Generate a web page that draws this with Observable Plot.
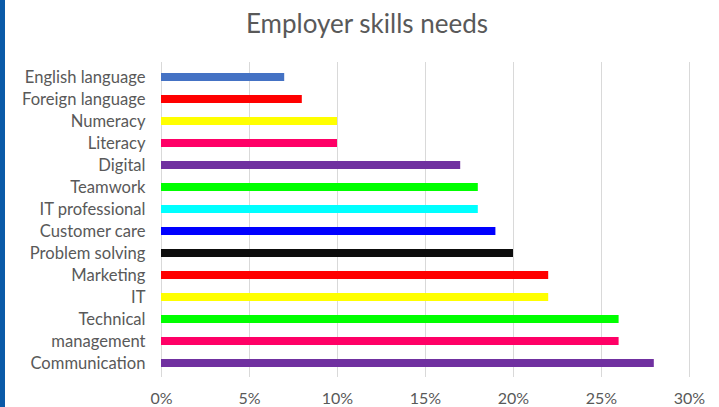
<!DOCTYPE html>
<html>
<head>
<meta charset="utf-8">
<script src="https://cdn.jsdelivr.net/npm/d3@7"></script>
<script src="https://cdn.jsdelivr.net/npm/@observablehq/plot@0.6"></script>
<style>
  html, body { margin: 0; padding: 0; background: #fff; }
  body { width: 719px; height: 407px; position: relative; overflow: hidden; font-family: Lato, "Open Sans", sans-serif; }
  #strip { position: absolute; left: 0; top: 0; width: 5px; height: 407px; background: #0a5aa8; }
  #title { position: absolute; left: 0; top: 0; width: 734px; height: 50px; text-align: center; line-height: 46px; font-size: 26px; color: #595959; }
  #chart { position: absolute; left: 0; top: 50px; }
</style>
</head>
<body>
<div id="strip"></div>
<div id="title">Employer skills needs</div>
<div id="chart"></div>
<script>
const categories = ["English language", "Foreign language", "Numeracy", "Literacy", "Digital", "Teamwork", "IT professional", "Customer care", "Problem solving", "Marketing", "IT", "Technical", "management", "Communication"];
const values = [7, 8, 10, 10, 17, 18, 18, 19, 20, 22, 22, 26, 26, 28];
const colors = ["#4472c4", "#ff0000", "#ffff00", "#ff0066", "#7030a0", "#00ff00", "#00ffff", "#0000ff", "#0d0d0d", "#ff0000", "#ffff00", "#00ff00", "#ff0066", "#7030a0"];
const xTicks = [0, 5, 10, 15, 20, 25, 30];

const data = categories.map((c, i) => ({skill: c, value: values[i], color: colors[i]}));

const chart = Plot.plot({
  width: 719,
  height: 357,
  marginLeft: 161,
  marginRight: 30,
  marginTop: 12,
  marginBottom: 30,
  style: {fontFamily: "Lato, 'Open Sans', sans-serif", color: "#595959", background: "transparent"},
  x: {domain: [0, 30], ticks: xTicks, tickFormat: d => d + "%", label: null},
  y: {domain: categories, paddingInner: 0.64, paddingOuter: 0.32, label: null},
  marks: [
    Plot.gridX(xTicks, {stroke: "#d9d9d9", strokeOpacity: 1, strokeWidth: 1}),
    Plot.barX(data, {x: "value", y: "skill", fill: "color"}),
    Plot.axisX({ticks: xTicks, tickFormat: d => d + "%", tickSize: 0, tickPadding: 15, fontSize: 16, fill: "#595959", label: null}),
    Plot.axisY({tickSize: 0, tickPadding: 16, fontSize: 16.6, fill: "#595959", label: null})
  ]
});
document.getElementById("chart").appendChild(chart);
</script>
</body>
</html>
